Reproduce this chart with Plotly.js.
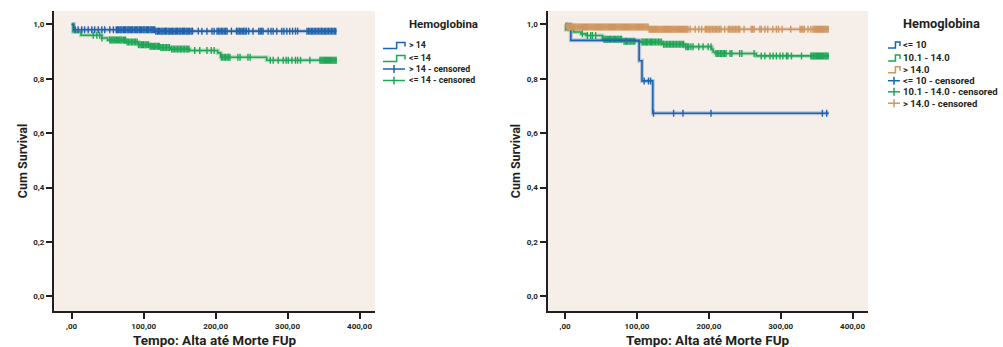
<!DOCTYPE html>
<html>
<head>
<meta charset="utf-8">
<script src="https://cdn.plot.ly/plotly-3.0.1.min.js"></script>
<style>html,body{margin:0;padding:0;background:#fff;}#chart{width:1003px;height:347px;}</style>
</head>
<body>
<div id="chart"></div>
<script>
// ---------------- DATA ----------------
// Left chart: Hemoglobina (> 14 vs <= 14)
const L_gt14_time = [0, 3, 116, 368];
const L_gt14_surv = [1.0, 0.980, 0.975, 0.975];
const L_le14_time = [0, 2, 13, 42, 50, 76, 93, 109, 123, 137, 164, 203, 207, 271, 368];
const L_le14_surv = [1.0, 0.972, 0.960, 0.950, 0.942, 0.935, 0.925, 0.919, 0.915, 0.909, 0.904, 0.895, 0.879, 0.868, 0.868];
const L_gt14_cens = [5, 9, 14, 18, 23, 28, 32, 37, 42, 46, 53, 58, 62, 63.5, 65, 67, 68.5, 70, 72, 73.5, 75, 77, 78.5, 80, 82, 83.5, 85, 87, 89, 90.5, 92, 94, 95.5, 97, 99, 100.5, 102, 104, 105.5, 107, 109, 110.5, 112, 114, 115.5, 117, 119, 120.5, 122, 124, 125.5, 127, 129, 130.5, 132, 134, 135.5, 137, 139, 140.5, 142, 144, 145.5, 147, 149, 150.5, 152, 154, 155.5, 157, 159, 160.5, 162, 164, 166, 168, 176, 181, 188, 195, 198, 202, 204, 206, 208, 210, 212, 214, 216, 222, 229, 231, 233, 235, 237, 239, 241, 243, 246, 252, 260, 262, 264, 266, 273, 277, 280, 285, 292, 295, 299, 303, 307, 311, 314, 327, 329, 331, 333, 335, 337, 339, 341, 343, 345, 347, 349, 351, 353, 355, 357, 359, 361, 363, 365, 367];
const L_le14_cens = [30, 35, 39, 42, 53, 54.5, 56, 57.5, 59, 60.5, 62, 64, 65.5, 67, 68.5, 70, 72, 73.5, 75, 77, 79, 81, 83, 85, 87, 89, 91, 93, 95, 97, 98.5, 100, 102, 103.5, 105, 107, 109, 110.5, 112, 114, 115.5, 117, 119, 120.5, 122, 124, 126, 128, 130, 132, 134, 136, 139, 141, 143, 145, 147, 149, 151, 153, 155, 157, 159, 161, 163, 171, 178, 188, 194, 198, 208, 210, 212, 214, 216, 218, 220, 231, 234, 245, 248, 276, 280, 287, 294, 298, 301, 306, 311, 314, 318, 331, 345, 346.5, 348, 349.5, 351, 352.5, 354, 355.5, 357, 358.5, 360, 361.5, 363, 364.5, 366, 367.5];

// Right chart: Hemoglobina (<= 10, 10.1 - 14.0, > 14.0)
const R_le10_time = [0, 8, 103, 107, 122, 367];
const R_le10_surv = [1.0, 0.941, 0.866, 0.792, 0.673, 0.673];
const R_mid_time = [0, 1, 12, 22, 29, 52, 80, 105, 135, 167, 204, 206, 209, 266, 367];
const R_mid_surv = [1.0, 0.980, 0.972, 0.965, 0.959, 0.945, 0.938, 0.935, 0.927, 0.918, 0.908, 0.898, 0.893, 0.884, 0.884];
const R_gt14_time = [0, 2, 116, 367];
const R_gt14_surv = [1.0, 0.990, 0.982, 0.982];
const R_le10_cens = [110, 116, 119, 123, 151, 164, 203, 358, 364];
const R_mid_cens = [24, 31, 35.6, 38, 42.5, 54, 55.5, 57, 58.5, 60, 62, 63.5, 65, 67, 68.5, 70, 72, 73.5, 75, 77, 78.5, 82, 84, 85.5, 87, 89, 91, 93, 95, 97, 107, 108.5, 110, 112, 113.5, 115, 117, 119, 120.5, 122, 124, 126, 128, 130, 132, 134, 137, 139, 141, 143, 145, 147, 149, 151, 153, 155, 157, 159, 161, 163, 165, 168, 170, 172, 175, 178, 186, 192, 199, 203, 210, 212, 214, 216, 218, 220, 222, 224, 229.5, 232, 243, 246, 263, 273, 278, 285, 289.5, 294, 299, 303, 308, 310, 315, 329, 342, 343.5, 345, 346.5, 348, 349.5, 351, 352.5, 354, 355.5, 357, 358.5, 360, 361.5, 363, 364.5, 366];
const R_gt14_cens = [3, 4.5, 6, 7.5, 9, 10.5, 12, 13.5, 15, 16.5, 18, 19.5, 21, 22.5, 24, 25.5, 27, 28.5, 30, 31.5, 33, 34.5, 36, 37.5, 39, 40.5, 42, 43.5, 45, 46.5, 48, 49.5, 51, 52.5, 54, 55.5, 57, 58.5, 60, 61.5, 63, 64.5, 66, 67.5, 69, 70.5, 72, 73.5, 75, 76.5, 78, 79.5, 81, 82.5, 84, 85.5, 87, 88.5, 90, 91.5, 93, 94.5, 96, 97.5, 99, 100.5, 102, 103.5, 105, 106.5, 108, 109.5, 111, 112.5, 114, 115.5, 117, 118.5, 120, 121.5, 123, 124.5, 126, 127.5, 129, 130.5, 132, 133.5, 135, 136.5, 138, 139.5, 141, 142.5, 144, 145.5, 147, 148.5, 150, 151.5, 153, 154.5, 156, 157.5, 159, 160.5, 162, 163.5, 165, 166.5, 168, 169.5, 171, 174, 181, 186, 190, 195, 197, 199, 201, 203, 205, 207, 209, 211, 213, 215, 217, 222, 227, 229, 231, 233, 235, 237, 239, 241, 243, 249, 259, 261, 263, 271, 273, 278, 282, 289, 294, 297, 302, 314, 327, 329, 331, 333, 338, 342, 345, 346.5, 348, 349.5, 351, 352.5, 354, 355.5, 357, 358.5, 360, 361.5, 363, 364.5, 366];

const xTickVals = [0, 100, 200, 300, 400];
const xTickText = [',00', '100,00', '200,00', '300,00', '400,00'];
const yTickVals = [0, 0.2, 0.4, 0.6, 0.8, 1.0];
const yTickText = ['0,0', '0,2', '0,4', '0,6', '0,8', '1,0'];

const legendTitle = 'Hemoglobina';
const L_legend_labels = ['> 14', '<= 14', '> 14 - censored', '<= 14 - censored'];
const R_legend_labels = ['<= 10', '10.1 - 14.0', '> 14.0', '<= 10 - censored', '10.1 - 14.0 - censored', '> 14.0 - censored'];
const xTitle = 'Tempo: Alta até Morte FUp';
const yTitle = 'Cum Survival';

// ---------------- STYLE ----------------
const BLUE = '#1f62ad', GREEN = '#1ea657', ORANGE = '#d09660';
const HALO = {'#1f62ad': 'rgba(31,98,173,0.28)', '#1ea657': 'rgba(30,166,87,0.28)', '#d09660': 'rgba(208,150,96,0.30)'};
const INK = '#231f20';
const FONT = 'Roboto, "DejaVu Sans", sans-serif';
const W = 1003, H = 347;

function survAt(times, surv, t) {
  let v = surv[0];
  for (let i = 0; i < times.length; i++) { if (times[i] <= t) v = surv[i]; }
  return v;
}

function curveTraces(times, surv, color, xa, ya) {
  return [
    {x: times, y: surv, xaxis: xa, yaxis: ya, mode: 'lines', line: {shape: 'hv', color: HALO[color], width: 4}, hoverinfo: 'skip'},
    {x: times, y: surv, xaxis: xa, yaxis: ya, mode: 'lines', line: {shape: 'hv', color: color, width: 1.6}}
  ];
}
function censTrace(cens, times, surv, color, xa, ya) {
  return {x: cens, y: cens.map(t => survAt(times, surv, t)), xaxis: xa, yaxis: ya, mode: 'markers',
    marker: {symbol: 'line-ns', size: 5, line: {color: color, width: 1.4}}};
}

const traces = [].concat(
  curveTraces(L_le14_time, L_le14_surv, GREEN, 'x', 'y'),
  [censTrace(L_le14_cens, L_le14_time, L_le14_surv, GREEN, 'x', 'y')],
  curveTraces(L_gt14_time, L_gt14_surv, BLUE, 'x', 'y'),
  [censTrace(L_gt14_cens, L_gt14_time, L_gt14_surv, BLUE, 'x', 'y')],
  curveTraces(R_mid_time, R_mid_surv, GREEN, 'x2', 'y2'),
  [censTrace(R_mid_cens, R_mid_time, R_mid_surv, GREEN, 'x2', 'y2')],
  curveTraces(R_le10_time, R_le10_surv, BLUE, 'x2', 'y2'),
  [censTrace(R_le10_cens, R_le10_time, R_le10_surv, BLUE, 'x2', 'y2')],
  curveTraces(R_gt14_time, R_gt14_surv, ORANGE, 'x2', 'y2'),
  [censTrace(R_gt14_cens, R_gt14_time, R_gt14_surv, ORANGE, 'x2', 'y2')]
);

function xAxis(domain, anchor) {
  return {domain: domain, anchor: anchor, range: [-24.5, 421.5], showgrid: false, zeroline: false,
    showline: true, linewidth: 2, linecolor: INK, ticks: 'outside', ticklen: 6, tickwidth: 2, tickcolor: INK,
    tickvals: xTickVals, ticktext: xTickText, tickfont: {family: FONT, size: 8, color: INK, weight: 'bold'},
    automargin: false};
}
function yAxis(domain, anchor) {
  return {domain: domain, anchor: anchor, range: [-0.054, 1.049], showgrid: false, zeroline: false,
    showline: true, linewidth: 2, linecolor: INK, ticks: 'outside', ticklen: 6, tickwidth: 2, tickcolor: INK,
    tickvals: yTickVals, ticktext: yTickText, tickfont: {family: FONT, size: 8, color: INK, weight: 'bold'},
    automargin: false, title: {text: yTitle, standoff: 3, font: {family: FONT, size: 12.5, color: INK, weight: 'bold'}}};
}

const yDom = [1 - 311 / H, 1 - 11 / H];
const px = v => v / W, py = v => 1 - v / H;

const annotations = [], shapes = [];
// x-axis titles, low under the tick labels as in the reference
[215, 708].forEach(cx => annotations.push({xref: 'paper', yref: 'paper', x: px(cx), y: py(329.5), xanchor: 'center', yanchor: 'top',
  text: xTitle, showarrow: false, font: {family: FONT, size: 13.5, color: INK, weight: 'bold'}}));

// manual legends (SPSS style)
function legend(x0, iconW, textX, titleSize, itemSize, labels, colors, kinds, rows) {
  annotations.push({xref: 'paper', yref: 'paper', x: px(textX), y: py(24), xanchor: 'left', yanchor: 'middle',
    text: legendTitle, showarrow: false, font: {family: FONT, size: titleSize, color: INK, weight: 'bold'}});
  labels.forEach((lab, i) => {
    const r = rows[i];
    annotations.push({xref: 'paper', yref: 'paper', x: px(textX), y: py(r), xanchor: 'left', yanchor: 'middle',
      text: lab, showarrow: false, font: {family: FONT, size: itemSize, color: INK, weight: 'bold'}});
    const x1 = x0 + iconW;
    if (kinds[i] === 'step') {
      const xm = x0 + iconW * 0.62;
      shapes.push({type: 'path', xref: 'paper', yref: 'paper',
        path: `M ${px(x0)},${py(r + 3.5)} L ${px(xm)},${py(r + 3.5)} L ${px(xm)},${py(r - 2.5)} L ${px(x1)},${py(r - 2.5)} L ${px(x1)},${py(r + 1.5)}`,
        line: {color: colors[i], width: 1.5}});
    } else {
      shapes.push({type: 'line', xref: 'paper', yref: 'paper', x0: px(x0), x1: px(x1), y0: py(r), y1: py(r),
        line: {color: colors[i], width: 1.5}});
      const xc = (x0 + x1) / 2;
      shapes.push({type: 'line', xref: 'paper', yref: 'paper', x0: px(xc), x1: px(xc), y0: py(r - 4), y1: py(r + 4),
        line: {color: colors[i], width: 1.5}});
    }
  });
}
legend(383, 22, 407, 11.5, 8.8, L_legend_labels, [BLUE, GREEN, BLUE, GREEN], ['step', 'step', 'cens', 'cens'], [45, 58, 69, 80.5]);
legend(888, 12, 901, 12.8, 9.5, R_legend_labels, [BLUE, GREEN, ORANGE, BLUE, GREEN, ORANGE],
  ['step', 'step', 'step', 'cens', 'cens', 'cens'], [44.5, 57.5, 69.2, 80.7, 91.8, 103.2]);

const layout = {
  width: W, height: H, margin: {l: 0, r: 0, t: 0, b: 0},
  paper_bgcolor: '#ffffff', plot_bgcolor: '#f6eee8', showlegend: false,
  font: {family: FONT, color: INK},
  xaxis: xAxis([54 / W, 375 / W], 'y'),
  yaxis: yAxis(yDom, 'x'),
  xaxis2: xAxis([547.5 / W, 868 / W], 'y2'),
  yaxis2: yAxis(yDom, 'x2'),
  annotations: annotations, shapes: shapes
};

Plotly.newPlot('chart', traces, layout, {staticPlot: true, displayModeBar: false});
</script>
</body>
</html>
